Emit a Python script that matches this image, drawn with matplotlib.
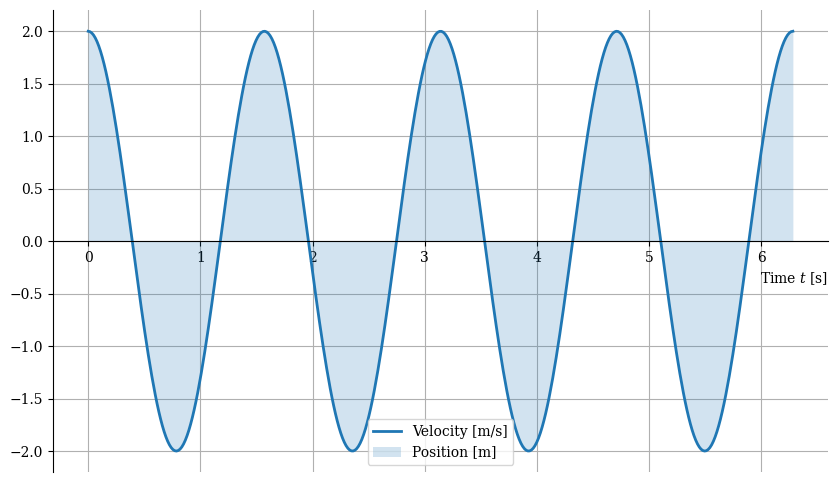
import numpy as np
import matplotlib
matplotlib.use('Agg')
import matplotlib.pyplot as plt

plt.rcParams['font.family'] = 'DejaVu Serif'
plt.rcParams['mathtext.fontset'] = 'dejavuserif'

# curve: peaks at +/-2.0, period pi/2, from t=0 to t=2*pi
amplitude = 2.0
omega = 4.0
t_start = 0.0
t_end = 2 * np.pi
n_samples = 400

series_labels = ['Velocity [m/s]', 'Position [m]']
y_ticks = [-2.0, -1.5, -1.0, -0.5, 0.0, 0.5, 1.0, 1.5, 2.0]
x_ticks = [0, 1, 2, 3, 4, 5, 6]

t = np.linspace(t_start, t_end, n_samples)
v = amplitude * np.cos(omega * t)

fig = plt.figure(figsize=(8.38, 4.82), dpi=100)
ax = fig.add_axes([0.0632, 0.0207, 0.925, 0.958])

ax.plot(t, v, color='tab:blue', lw=2, label=series_labels[0])
ax.fill_between(t, v, 0, color='tab:blue', alpha=0.2, lw=0, label=series_labels[1])

ax.spines['bottom'].set_position(('data', 0))
ax.spines['top'].set_visible(False)
ax.spines['right'].set_visible(False)
ax.set_xticks(x_ticks)
ax.set_yticks(y_ticks)
ax.grid(True)
ax.set_axisbelow(True)
ax.set_xlabel('Time $t$ [s]', loc='right')
ax.legend(loc='lower center')

plt.savefig('out.png', dpi=100)
